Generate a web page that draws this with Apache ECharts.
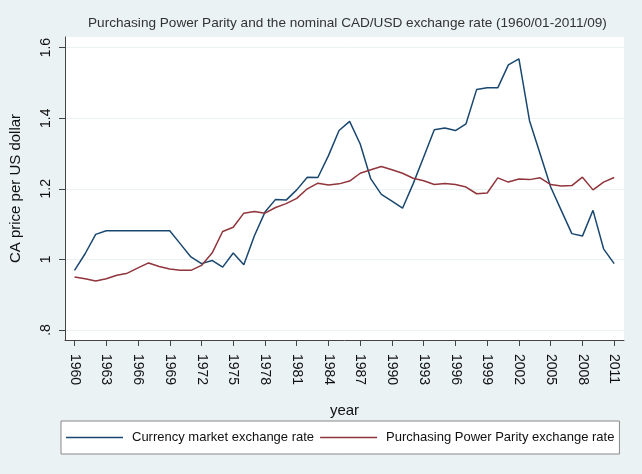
<!DOCTYPE html>
<html>
<head>
<meta charset="utf-8">
<script src="https://cdn.jsdelivr.net/npm/echarts@6/dist/echarts.min.js"></script>
<style>
html, body { margin: 0; padding: 0; background: #eaf2f3; }
#chart { width: 642px; height: 474px; }
</style>
</head>
<body>
<div id="chart"></div>
<script>
// annual values
const years = [1960, 1961, 1962, 1963, 1964, 1965, 1966, 1967, 1968, 1969,
    1970, 1971, 1972, 1973, 1974, 1975, 1976, 1977, 1978, 1979,
    1980, 1981, 1982, 1983, 1984, 1985, 1986, 1987, 1988, 1989,
    1990, 1991, 1992, 1993, 1994, 1995, 1996, 1997, 1998, 1999,
    2000, 2001, 2002, 2003, 2004, 2005, 2006, 2007, 2008, 2009,
    2010, 2011];

const marketRate = [0.969, 1.016, 1.071, 1.081, 1.081, 1.081, 1.081, 1.081, 1.081, 1.081,
    1.044, 1.007, 0.988, 0.997, 0.978, 1.018, 0.985, 1.067, 1.134, 1.170,
    1.168, 1.197, 1.233, 1.232, 1.294, 1.365, 1.391, 1.327, 1.228, 1.184,
    1.165, 1.145, 1.214, 1.290, 1.367, 1.372, 1.365, 1.384, 1.481, 1.486,
    1.486, 1.551, 1.568, 1.393, 1.299, 1.205, 1.139, 1.073, 1.066, 1.139,
    1.030, 0.988];

const pppRate = [0.950, 0.945, 0.939, 0.945, 0.955, 0.961, 0.976, 0.990, 0.980, 0.973,
    0.969, 0.969, 0.983, 1.018, 1.079, 1.091, 1.131, 1.136, 1.131, 1.147,
    1.158, 1.173, 1.200, 1.216, 1.211, 1.214, 1.222, 1.244, 1.254, 1.263,
    1.254, 1.244, 1.230, 1.223, 1.212, 1.215, 1.212, 1.205, 1.186, 1.188,
    1.231, 1.219, 1.228, 1.226, 1.231, 1.212, 1.208, 1.209, 1.233, 1.197,
    1.219, 1.232];

const xTicks = [1960, 1963, 1966, 1969, 1972, 1975, 1978, 1981, 1984, 1987,
    1990, 1993, 1996, 1999, 2002, 2005, 2008, 2011];
const yTicks = [0.8, 1, 1.2, 1.4, 1.6];
const yTickLabels = ['.8', '1', '1.2', '1.4', '1.6'];

const seriesNames = ['Currency market exchange rate', 'Purchasing Power Parity exchange rate'];

const font = 'Liberation Sans, Arial, sans-serif';

function pairs(values) {
    return years.map((y, i) => [y, values[i]]);
}

const chart = echarts.init(document.getElementById('chart'));

const option = {
    animation: false,
    backgroundColor: '#eaf2f3',
    title: {
        text: 'Purchasing Power Parity and the nominal CAD/USD exchange rate (1960/01-2011/09)',
        left: 83,
        top: 11,
        textStyle: { fontSize: 13.6, fontWeight: 'normal', color: '#333', fontFamily: font }
    },
    grid: {
        left: 56,
        right: 18,
        top: 37,
        bottom: 134,
        show: true,
        backgroundColor: '#fff',
        borderWidth: 0
    },
    legend: {
        left: 61,
        top: 421,
        icon: 'rect',
        itemWidth: 57,
        itemHeight: 1.5,
        itemGap: 6,
        padding: [10, 5, 10, 5],
        backgroundColor: '#fff',
        borderColor: '#888',
        borderWidth: 1,
        textStyle: { fontSize: 13, color: '#111', fontFamily: font, padding: [0, 0, 0, 4] },
        data: seriesNames
    },
    xAxis: {
        type: 'value',
        min: 1959.1,
        max: 2011.93,
        name: 'year',
        nameLocation: 'middle',
        nameGap: 63,
        nameTextStyle: { fontSize: 15, color: '#111', fontFamily: font },
        axisLine: { show: true, onZero: false, lineStyle: { color: '#444', width: 1 } },
        axisTick: { show: true, length: 6, customValues: xTicks, lineStyle: { color: '#444' } },
        axisLabel: {
            customValues: xTicks,
            rotate: -90,
            margin: 14,
            fontSize: 14,
            color: '#111',
            fontFamily: font,
            formatter: v => String(v)
        },
        splitLine: { show: false }
    },
    yAxis: {
        type: 'value',
        min: 0.7717,
        max: 1.630,
        name: 'CA price per US dollar',
        nameLocation: 'middle',
        nameGap: 42,
        nameTextStyle: { fontSize: 15, color: '#111', fontFamily: font },
        axisLine: { show: true, lineStyle: { color: '#444', width: 1 } },
        axisTick: { show: true, length: 6, customValues: yTicks, lineStyle: { color: '#444' } },
        axisLabel: {
            customValues: yTicks,
            rotate: 90,
            margin: 12,
            fontSize: 14,
            color: '#111',
            fontFamily: font,
            formatter: function (v) {
                const i = yTicks.findIndex(t => Math.abs(t - v) < 1e-6);
                return i >= 0 ? yTickLabels[i] : '';
            }
        },
        splitLine: { show: true, lineStyle: { color: '#eaf2f3', width: 1 } }
    },
    series: [
        {
            name: seriesNames[0],
            type: 'line',
            symbol: 'none',
            data: pairs(marketRate),
            lineStyle: { color: '#1a476f', width: 1.5 },
            itemStyle: { color: '#1a476f' }
        },
        {
            name: seriesNames[1],
            type: 'line',
            symbol: 'none',
            data: pairs(pppRate),
            lineStyle: { color: '#90353b', width: 1.5 },
            itemStyle: { color: '#90353b' }
        }
    ]
};

chart.setOption(option);
</script>
</body>
</html>
